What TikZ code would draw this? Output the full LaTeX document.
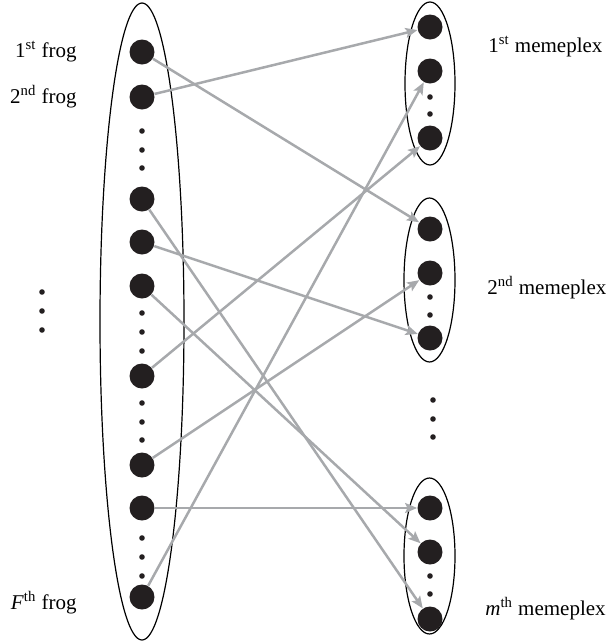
\documentclass[tikz,border=0pt]{standalone}
\usepackage{fontspec}
\setmainfont{Liberation Serif}
\usepackage{tikz}
\usetikzlibrary{shapes.geometric,arrows.meta,positioning,calc}
\definecolor{dotblack}{RGB}{35,31,32}
\definecolor{linkgray}{RGB}{167,169,172}

\begin{document}
\begin{tikzpicture}[
    x=0.5pt, y=-0.5pt,
    every node/.style={font=\fontsize{10.5}{12.5}\selectfont},
    frog/.style={circle, fill=dotblack, inner sep=0pt, minimum size=12.5pt},
    gap/.style={circle, fill=dotblack, inner sep=0pt, minimum size=2.8pt},
    group/.style={ellipse, draw=black, line width=0.6pt, inner sep=0pt},
    lbl/.style={inner sep=0pt},
    link/.style={-{Stealth[length=6pt,width=5pt,inset=1.2pt]}, line width=1.25pt, draw=linkgray}
]
\useasboundingbox (0,0) rectangle (610,644);

% LEFT: population of frogs
\node[group, minimum width=42pt, minimum height=318.5pt] (pool) at (142,321.5) {};
\node[frog] (f1) at (142,52) {};
\node[frog] (f2) at (142,97) {};
\node[frog] (f3) at (142,199) {};
\node[frog] (f4) at (142,242) {};
\node[frog] (f5) at (142,286) {};
\node[frog] (f6) at (142,376) {};
\node[frog] (f7) at (142,465) {};
\node[frog] (f8) at (142,508) {};
\node[frog] (f9) at (142,597) {};
\foreach \y in {131,150,168,313,332,351,403,422,440,538,557,576}
    \node[gap] (g\y) at (142,\y) {};
\foreach \y in {292,311,330}
    \node[gap] (h\y) at (42,\y) {};

\node[lbl, anchor=east] (t1) at (77,52) {1\textsuperscript{st} frog};
\node[lbl, anchor=east] (t2) at (77,97) {2\textsuperscript{nd} frog};
\node[lbl, anchor=east] (tF) at (77,603) {\textit{F}\textsuperscript{th} frog};

% RIGHT: memeplexes
\node[group, minimum width=25pt, minimum height=81.5pt] (memA) at (430,83.5) {};
\node[frog] (a1) at (430,27) {};
\node[frog] (a2) at (430,71) {};
\node[frog] (a3) at (430,138) {};
\node[gap] (ga1) at (430,97) {};
\node[gap] (ga2) at (430,114) {};

\node[group, minimum width=25.5pt, minimum height=82pt] (memB) at (429.5,280) {};
\node[frog] (b1) at (430,229) {};
\node[frog] (b2) at (430,273) {};
\node[frog] (b3) at (430,338) {};
\node[gap] (gb1) at (430,297) {};
\node[gap] (gb2) at (430,315) {};

\node[group, minimum width=25.5pt, minimum height=78pt] (memC) at (429.5,556) {};
\node[frog] (c1) at (430,508) {};
\node[frog] (c2) at (430,552) {};
\node[frog] (c3) at (430,619) {};
\node[gap] (gc1) at (430,576) {};
\node[gap] (gc2) at (430,594) {};

\foreach \y in {400,419,437}
    \node[gap] (v\y) at (433,\y) {};

\node[lbl, anchor=west] (tA) at (488,47) {1\textsuperscript{st} memeplex};
\node[lbl, anchor=west] (tB) at (487,288) {2\textsuperscript{nd} memeplex};
\node[lbl, anchor=west] (tC) at (485,609) {\textit{m}\textsuperscript{th} memeplex};

% links
\foreach \s/\t in {f1/b1, f2/a1, f3/c3, f4/b3, f5/c2, f6/a3, f7/b2, f8/c1, f9/a2}
    \draw[link] (\s) -- (\t);

\end{tikzpicture}
\end{document}
